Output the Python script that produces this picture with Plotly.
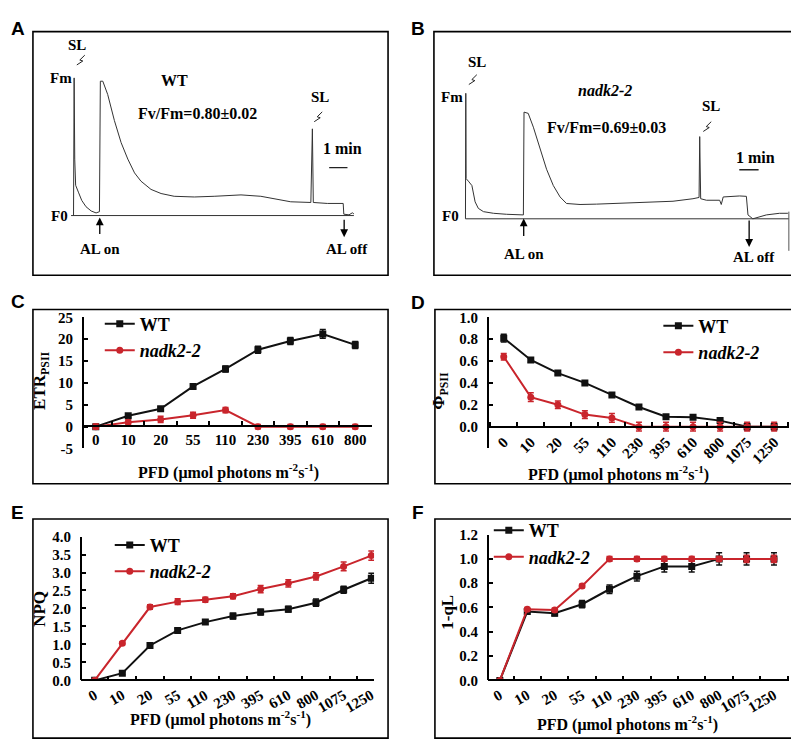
import plotly.graph_objects as go

W, H = 799, 743
def fx(p): return p / W
def fy(p): return 1 - p / H

SERIF = "'Liberation Serif', 'Times New Roman', Times, serif"
SANS = "'Liberation Sans', Arial, sans-serif"
RED = "#c9252c"
BLK = "#111111"

# ---------------- DATA ----------------
# Panel A: WT chlorophyll fluorescence trace (time s, relative F, Fm = 1)
trace_a_t = [0, 2, 4, 7, 16, 27, 41, 58, 74, 85, 88, 96, 112, 134, 156, 178, 200, 221, 254, 287,
             330, 396, 461, 549, 614, 658, 712, 778, 783, 786, 832, 884, 886, 903, 914, 919]
trace_a_f = [0.0, 1.0, 0.41, 0.22, 0.17, 0.11, 0.064, 0.033, 0.019, 0.028, 0.976, 0.976, 0.88, 0.69,
             0.53, 0.41, 0.31, 0.25, 0.19, 0.16, 0.14, 0.135, 0.14, 0.15, 0.14, 0.12, 0.10, 0.095,
             0.63, 0.095, 0.088, 0.088, 0.01, 0.005, 0.02, 0.012]
# Panel B: nadk2-2 trace
trace_b_t = [0, 1, 2, 9, 20, 30, 40, 56, 87, 128, 180, 182, 195, 211, 232, 252, 273, 294, 314, 356,
             407, 459, 542, 645, 707, 726, 728, 731, 749, 790, 795, 801, 852, 873, 878, 893, 935,
             976, 1002]
trace_b_f = [0.0, 1.0, 0.32, 0.30, 0.265, 0.135, 0.083, 0.057, 0.044, 0.036, 0.031, 0.85, 0.84, 0.73,
             0.55, 0.395, 0.265, 0.174, 0.122, 0.114, 0.117, 0.122, 0.127, 0.14, 0.16, 0.17, 0.655,
             0.16, 0.148, 0.148, 0.114, 0.174, 0.182, 0.179, 0.031, 0.0, 0.031, 0.044, 0.044]

pfd_c = ["0", "10", "20", "55", "110", "230", "395", "610", "800"]
pfd_all = ["0", "10", "20", "55", "110", "230", "395", "610", "800", "1075", "1250"]

etr_wt = [0, 2.5, 4.1, 9.2, 13.2, 17.6, 19.6, 21.2, 18.7]
etr_wt_err = [0.3, 0.4, 0.4, 0.5, 0.7, 0.8, 0.8, 1.0, 0.8]
etr_mut = [0, 1.0, 1.65, 2.6, 3.8, 0, 0, 0, 0]
etr_mut_err = [0.6, 0.6, 0.7, 0.7, 0.6, 0.5, 0.5, 0.5, 0.5]

phi_wt = [0.81, 0.61, 0.49, 0.40, 0.29, 0.18, 0.09, 0.085, 0.055, 0.0, 0.0]
phi_wt_err = [0.035, 0.02, 0.015, 0.01, 0.01, 0.01, 0.01, 0.01, 0.01, 0.03, 0.03]
phi_mut = [0.64, 0.27, 0.20, 0.11, 0.08, 0, 0, 0, 0, 0, 0]
phi_mut_err = [0.03, 0.04, 0.035, 0.035, 0.04, 0.04, 0.04, 0.04, 0.04, 0.04, 0.04]

npq_wt = [0, 0.2, 0.97, 1.39, 1.62, 1.79, 1.9, 1.98, 2.16, 2.52, 2.84]
npq_wt_err = [0.02, 0.04, 0.04, 0.05, 0.06, 0.08, 0.08, 0.08, 0.1, 0.1, 0.14]
npq_mut = [0, 1.03, 2.04, 2.19, 2.24, 2.34, 2.54, 2.7, 2.89, 3.17, 3.47]
npq_mut_err = [0.02, 0.04, 0.06, 0.08, 0.07, 0.07, 0.1, 0.1, 0.1, 0.12, 0.13]

ql_wt = [0, 0.566, 0.552, 0.627, 0.75, 0.858, 0.938, 0.938, 1.0, 1.0, 1.0]
ql_wt_err = [0.01, 0.02, 0.02, 0.03, 0.035, 0.04, 0.045, 0.045, 0.05, 0.05, 0.05]
ql_mut = [0, 0.585, 0.579, 0.777, 1.0, 1.0, 1.0, 1.0, 1.0, 1.0, 1.0]
ql_mut_err = [0.01, 0.015, 0.015, 0.015, 0.02, 0.02, 0.02, 0.02, 0.02, 0.03, 0.03]

etr_ticks = [-5, 0, 5, 10, 15, 20, 25]
etr_ticktext = ["-5", "0", "5", "10", "15", "20", "25"]
phi_ticks = [0, 0.2, 0.4, 0.6, 0.8, 1.0]
phi_ticktext = ["0.0", "0.2", "0.4", "0.6", "0.8", "1.0"]
npq_ticks = [0, 0.5, 1, 1.5, 2, 2.5, 3, 3.5, 4]
npq_ticktext = ["0.0", "0.5", "1.0", "1.5", "2.0", "2.5", "3.0", "3.5", "4.0"]
ql_ticks = [0, 0.2, 0.4, 0.6, 0.8, 1.0, 1.2]
ql_ticktext = ["0.0", "0.2", "0.4", "0.6", "0.8", "1.0", "1.2"]

# ---------------- FIGURE ----------------
fig = go.Figure()

fig.add_trace(go.Scatter(x=trace_a_t, y=trace_a_f, mode="lines", line=dict(color="#333", width=1),
                         xaxis="x", yaxis="y", showlegend=False))
fig.add_trace(go.Scatter(x=trace_b_t, y=trace_b_f, mode="lines", line=dict(color="#333", width=1),
                         xaxis="x2", yaxis="y2", showlegend=False))

def add_pair(n, cats, wt, wte, mut, mute, leg):
    ax = "x%d" % n
    ay = "y%d" % n
    fig.add_trace(go.Scatter(x=cats, y=wt, name="<b>WT</b>", mode="lines+markers",
                             line=dict(color=BLK, width=2),
                             marker=dict(symbol="square", size=7, color=BLK),
                             error_y=dict(type="data", array=wte, color=BLK, thickness=1.5, width=3),
                             xaxis=ax, yaxis=ay, legend=leg))
    fig.add_trace(go.Scatter(x=cats, y=mut, name="<b><i>nadk2-2</i></b>", mode="lines+markers",
                             line=dict(color=RED, width=2),
                             marker=dict(symbol="circle", size=7, color=RED),
                             error_y=dict(type="data", array=mute, color=RED, thickness=1.5, width=3),
                             xaxis=ax, yaxis=ay, legend=leg))

add_pair(3, pfd_c, etr_wt, etr_wt_err, etr_mut, etr_mut_err, "legend")
add_pair(4, pfd_all, phi_wt, phi_wt_err, phi_mut, phi_mut_err, "legend2")
add_pair(5, pfd_all, npq_wt, npq_wt_err, npq_mut, npq_mut_err, "legend3")
add_pair(6, pfd_all, ql_wt, ql_wt_err, ql_mut, ql_mut_err, "legend4")

tickfont = dict(family=SERIF, size=15, color="black")
def bold(lst):
    return ["<b>%s</b>" % s for s in lst]

def hidden_axes(n, xl, xr, yt, yb, xr_rng, yr_rng):
    sx = "" if n == 1 else str(n)
    fig.layout["xaxis" + sx] = dict(domain=[fx(xl), fx(xr)], range=xr_rng, visible=False,
                                    anchor="y" + sx)
    fig.layout["yaxis" + sx] = dict(domain=[fy(yb), fy(yt)], range=yr_rng, visible=False,
                                    anchor="x" + sx)

hidden_axes(1, 25, 381, 16, 265, [-133, 1031], [-0.434, 1.336])
hidden_axes(2, 427, 797, 16, 265, [-98, 1049], [-0.45, 1.491])

def data_axes(n, cats, xl, xr, yt, yb, zero_py, xrng, yrng, ytickvals, yticktext, angle):
    fig.layout["xaxis%d" % n] = dict(
        domain=[fx(xl), fx(xr)], range=xrng, type="category", anchor="free",
        position=fy(zero_py), showline=True, linecolor="black", linewidth=1.5,
        ticks="inside", tickson="boundaries", ticklen=4, tickwidth=1.5, tickcolor="black",
        tickmode="array", tickvals=cats, ticktext=bold(cats),
        tickfont=tickfont, tickangle=angle, showgrid=False, zeroline=False)
    fig.layout["yaxis%d" % n] = dict(
        domain=[fy(yb), fy(yt)], range=yrng, anchor="free", position=fx(xl),
        showline=True, linecolor="black", linewidth=1.5, ticks="inside", ticklen=4,
        tickwidth=1.5, tickcolor="black", tickmode="array", tickvals=ytickvals,
        ticktext=bold(yticktext), tickfont=tickfont, showgrid=False, zeroline=False,
        ticklabelstandoff=6)

data_axes(3, pfd_c, 75, 365, 308, 442, 419, [-0.4, 8.52], [-5, 25], etr_ticks, etr_ticktext, 0)
data_axes(4, pfd_all, 481, 783, 308, 442, 420, [-0.59, 10.55], [-0.2, 1.0], phi_ticks, phi_ticktext, -45)
data_axes(5, pfd_all, 73, 367, 532, 679, 679, [-0.5, 10.1], [0, 4.0], npq_ticks, npq_ticktext, -30)
data_axes(6, pfd_all, 481, 783, 530, 679, 679, [-0.44, 10.55], [0, 1.2], ql_ticks, ql_ticktext, -30)

legfont = dict(family=SERIF, size=18, color="black")
def legend_at(x, y):
    return dict(x=fx(x), y=fy(y), xanchor="left", yanchor="top", bgcolor="rgba(0,0,0,0)",
                font=legfont, itemwidth=30, tracegroupgap=0)

fig.update_layout(
    width=W, height=H, margin=dict(l=0, r=0, t=0, b=0),
    paper_bgcolor="white", plot_bgcolor="rgba(0,0,0,0)",
    font=dict(family=SERIF),
    legend=legend_at(92, 296), legend2=legend_at(652, 298),
    legend3=legend_at(102, 522), legend4=legend_at(482, 507),
)

shapes = []
def box(x0, y0, x1, y1):
    shapes.append(dict(type="rect", xref="paper", yref="paper", x0=fx(x0), x1=fx(x1),
                       y0=fy(y1), y1=fy(y0), line=dict(color="black", width=1.6)))
box(25, 16, 381, 265)
box(427, 16, 797, 265)
box(25, 300, 381, 478)
box(428, 300, 797, 478)
box(25, 514, 381, 738)
box(428, 514, 797, 738)

# baselines and scale bars (data coords)
shapes.append(dict(type="line", xref="x", yref="y", x0=-8, x1=919, y0=0, y1=0, line=dict(color="#333", width=1)))
shapes.append(dict(type="line", xref="x", yref="y", x0=838, x1=898, y0=0.348, y1=0.348, line=dict(color="#222", width=1.2)))
shapes.append(dict(type="line", xref="x2", yref="y2", x0=0, x1=1005, y0=0, y1=0, line=dict(color="#333", width=1)))
shapes.append(dict(type="line", xref="x2", yref="y2", x0=1005, x1=1005, y0=0.057, y1=-0.255, line=dict(color="#555", width=1)))
shapes.append(dict(type="line", xref="x2", yref="y2", x0=851, x1=911, y0=0.39, y1=0.39, line=dict(color="#222", width=1.5)))

# lightning marks for saturating light pulses
def bolt(tx, ty):
    pts = [(tx + 8, ty - 10), (tx + 3, ty - 5), (tx + 6, ty - 4), (tx, ty)]
    path = "M " + " L ".join("%f,%f" % (fx(a), fy(b)) for a, b in pts)
    shapes.append(dict(type="path", xref="paper", yref="paper", path=path, line=dict(color="#222", width=1)))
bolt(69, 50)
bolt(307, 108)
bolt(462, 70)
bolt(697, 118)

fig.update_layout(shapes=shapes)

ann = []
def txt(x, y, s, size=15, family=SERIF, italic=False, xanchor="center", angle=0):
    body = "<b>" + s + "</b>"
    if italic:
        body = "<i>" + body + "</i>"
    ann.append(dict(x=fx(x), y=fy(y), xref="paper", yref="paper", text=body, showarrow=False,
                    xanchor=xanchor, yanchor="middle", textangle=angle,
                    font=dict(family=family, size=size, color="black")))

def arrow(x, yhead, ytail):
    ann.append(dict(x=fx(x), y=fy(yhead), xref="paper", yref="paper", ax=0, ay=ytail - yhead,
                    text="", showarrow=True, arrowhead=2, arrowsize=1.2, arrowwidth=1.3,
                    arrowcolor="black"))

# panel letters
for L, x, y in [("A", 10, 13), ("B", 411, 13), ("C", 10, 292), ("D", 411, 293), ("E", 10, 507), ("F", 411, 507)]:
    txt(x, y, L, size=19, family=SANS)

# panel A texts
txt(69, 30, "SL", 15)
txt(53, 63, "Fm", 15)
txt(52, 204, "F0", 15)
txt(167, 66, "WT", 16)
txt(190, 100, "Fv/Fm=0.80±0.02", 16)
txt(313, 83, "SL", 15)
txt(335, 135, "1 min", 16)
arrow(92, 206, 224)
txt(92, 238, "AL on", 15)
arrow(337, 226, 207)
txt(340, 238, "AL off", 15)

# panel B texts
txt(470, 47, "SL", 15)
txt(445, 83, "Fm", 15)
txt(444, 204, "F0", 15)
txt(598, 76, "nadk2-2", 16, italic=True)
txt(600, 114, "Fv/Fm=0.69±0.03", 16)
txt(705, 92, "SL", 15)
txt(749, 145, "1 min", 16)
arrow(517, 207, 226)
txt(517, 243, "AL on", 15)
arrow(743, 236, 208)
txt(748, 246, "AL off", 15)

# axis titles
xt = "PFD (μmol photons m<sup>-2</sup>s<sup>-1</sup>)"
txt(221, 466, xt, 16)
txt(612, 468, xt, 16)
txt(213, 718, xt, 16)
txt(621, 723, xt, 16)
txt(33, 373, "ETR<sub>PSII</sub>", 17, angle=-90)
txt(433, 383, "Φ<sub>PSII</sub>", 17, angle=-90)
txt(32, 606, "NPQ", 17, angle=-90)
txt(441, 609, "1-qL", 17, angle=-90)

fig.update_layout(annotations=ann)

fig.write_html("out.html")
